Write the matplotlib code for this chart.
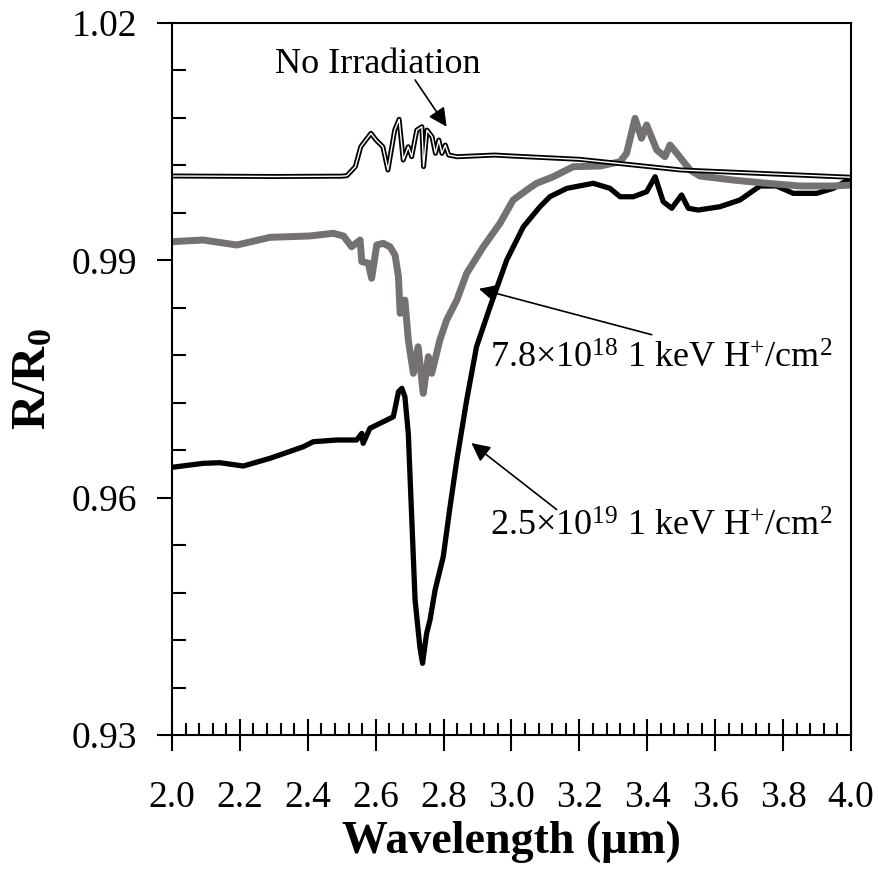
import matplotlib
matplotlib.use('Agg')
import matplotlib.pyplot as plt
from matplotlib.ticker import MultipleLocator, FormatStrFormatter

plt.rcParams['font.family'] = ['Liberation Serif', 'DejaVu Serif']
plt.rcParams['mathtext.fontset'] = 'custom'
plt.rcParams['mathtext.rm'] = 'Liberation Serif'
plt.rcParams['mathtext.it'] = 'Liberation Serif:italic'
plt.rcParams['mathtext.bf'] = 'Liberation Serif:bold'

# --- data ---
# No irradiation (baseline reference)
wl_none = [2.000, 2.300, 2.500, 2.515, 2.540, 2.556, 2.586, 2.601, 2.621, 2.636,
           2.656, 2.669, 2.681, 2.696, 2.706, 2.721, 2.736, 2.741, 2.751, 2.766,
           2.776, 2.786, 2.795, 2.805, 2.815, 2.840, 2.950, 3.000, 3.200, 3.500, 4.000]
r_none = [1.00066, 1.00060, 1.00064, 1.00070, 1.00184, 1.00436, 1.00606, 1.00521, 1.00436, 1.00142,
          1.00647, 1.00783, 1.00268, 1.00436, 1.00310, 1.00647, 1.00689, 1.00184, 1.00647, 1.00563,
          1.00353, 1.00521, 1.00353, 1.00458, 1.00331, 1.00310, 1.00331, 1.00319, 1.00277, 1.00142, 1.00050]

# 7.8e18 1 keV H+/cm2
wl_low = [2.000, 2.091, 2.191, 2.289, 2.406, 2.475, 2.505, 2.529, 2.554, 2.559,
          2.578, 2.588, 2.603, 2.622, 2.642, 2.657, 2.667, 2.672, 2.686, 2.696,
          2.711, 2.725, 2.740, 2.755, 2.765, 2.789, 2.809, 2.839, 2.868, 2.917,
          2.966, 3.005, 3.045, 3.074, 3.123, 3.182, 3.261, 3.320, 3.339, 3.364,
          3.383, 3.398, 3.428, 3.452, 3.467, 3.487, 3.526, 3.555, 3.653, 3.752,
          3.850, 3.948, 4.000]
r_low = [0.99236, 0.99257, 0.99194, 0.99291, 0.99308, 0.99342, 0.99308, 0.99172, 0.99257, 0.98983,
         0.98966, 0.98773, 0.99194, 0.99215, 0.99172, 0.99067, 0.98793, 0.98330, 0.98498, 0.97993,
         0.97572, 0.97908, 0.97319, 0.97782, 0.97572, 0.97993, 0.98246, 0.98498, 0.98836, 0.99172,
         0.99468, 0.99763, 0.99889, 0.99974, 1.00057, 1.00184, 1.00192, 1.00247, 1.00353, 1.00795,
         1.00543, 1.00711, 1.00395, 1.00310, 1.00458, 1.00353, 1.00142, 1.00066, 1.00015, 0.99974,
         0.99940, 0.99940, 0.99952]

# 2.5e19 1 keV H+/cm2
wl_high = [2.000, 2.092, 2.141, 2.210, 2.289, 2.387, 2.416, 2.485, 2.544, 2.559,
           2.563, 2.583, 2.652, 2.667, 2.677, 2.686, 2.696, 2.706, 2.716, 2.730,
           2.738, 2.750, 2.760, 2.775, 2.799, 2.819, 2.839, 2.868, 2.897, 2.937,
           2.986, 3.035, 3.084, 3.113, 3.163, 3.241, 3.290, 3.320, 3.359, 3.398,
           3.423, 3.447, 3.472, 3.501, 3.521, 3.550, 3.614, 3.673, 3.732, 3.781,
           3.830, 3.899, 3.948, 4.000]
r_high = [0.96384, 0.96434, 0.96442, 0.96400, 0.96498, 0.96644, 0.96707, 0.96729, 0.96729, 0.96813,
          0.96687, 0.96877, 0.97023, 0.97339, 0.97382, 0.97276, 0.96814, 0.95759, 0.94706, 0.94116,
          0.93906, 0.94285, 0.94454, 0.94833, 0.95254, 0.95886, 0.96476, 0.97234, 0.97908, 0.98414,
          0.99004, 0.99425, 0.99678, 0.99804, 0.99910, 0.99974, 0.99910, 0.99804, 0.99804, 0.99867,
          1.00057, 0.99741, 0.99658, 0.99826, 0.99658, 0.99636, 0.99678, 0.99763, 0.99940, 0.99940,
          0.99847, 0.99847, 0.99910, 1.00037]

fig = plt.figure(figsize=(8.79, 8.75), dpi=100)
ax = fig.add_axes([0.1957, 0.16, 0.7724, 0.8137])

ax.plot(wl_high, r_high, color='black', lw=3.8, solid_joinstyle='round')
ax.plot(wl_low, r_low, color='#767171', lw=5.0, solid_joinstyle='round')
# double line for the unirradiated spectrum
ax.plot(wl_none, r_none, color='black', lw=3.6, solid_joinstyle='round')
ax.plot(wl_none, r_none, color='white', lw=1.0, solid_joinstyle='round')

ax.set_xlim(2.0, 4.0)
ax.set_ylim(0.93, 1.02)

ax.xaxis.set_major_locator(MultipleLocator(0.2))
ax.xaxis.set_minor_locator(MultipleLocator(0.04))
ax.yaxis.set_major_locator(MultipleLocator(0.03))
ax.yaxis.set_minor_locator(MultipleLocator(0.006))
ax.xaxis.set_major_formatter(FormatStrFormatter('%.1f'))
ax.yaxis.set_major_formatter(FormatStrFormatter('%.2f'))

ax.tick_params(axis='x', which='major', direction='inout', length=23, width=1.5,
               labelsize=27, pad=21)
ax.tick_params(axis='x', which='minor', direction='in', length=9, width=1.5)
ax.tick_params(axis='y', which='major', direction='out', length=11, width=1.5,
               labelsize=27, pad=14)
ax.tick_params(axis='y', which='minor', direction='in', length=10, width=1.5)
for s in ax.spines.values():
    s.set_linewidth(1.5)

ax.set_xlabel('Wavelength (μm)', fontsize=33, fontweight='bold', labelpad=4)
ax.set_ylabel(r'$\mathbf{R/R_0}$', fontsize=35, labelpad=12)

arrow = dict(arrowstyle='-|>', mutation_scale=28, lw=1.2, color='black',
             shrinkA=0, shrinkB=0)
ax.text(2.607, 1.0147, 'No Irradiation', fontsize=26, ha='center', va='center')
ax.annotate('', xy=(2.809, 1.00689), xytext=(2.716, 1.0128), arrowprops=arrow)

ax.text(3.44, 0.9775, r'7.8×10$^{18}$ 1 keV H$^{+}$/cm$^{2}$', fontsize=26,
        ha='center', va='center')
ax.annotate('', xy=(2.904, 0.9864), xytext=(3.413, 0.9806), arrowprops=arrow)

ax.text(3.44, 0.9562, r'2.5×10$^{19}$ 1 keV H$^{+}$/cm$^{2}$', fontsize=26,
        ha='center', va='center')
ax.annotate('', xy=(2.882, 0.9669), xytext=(3.133, 0.9585), arrowprops=arrow)

fig.savefig('out.png', dpi=100)
